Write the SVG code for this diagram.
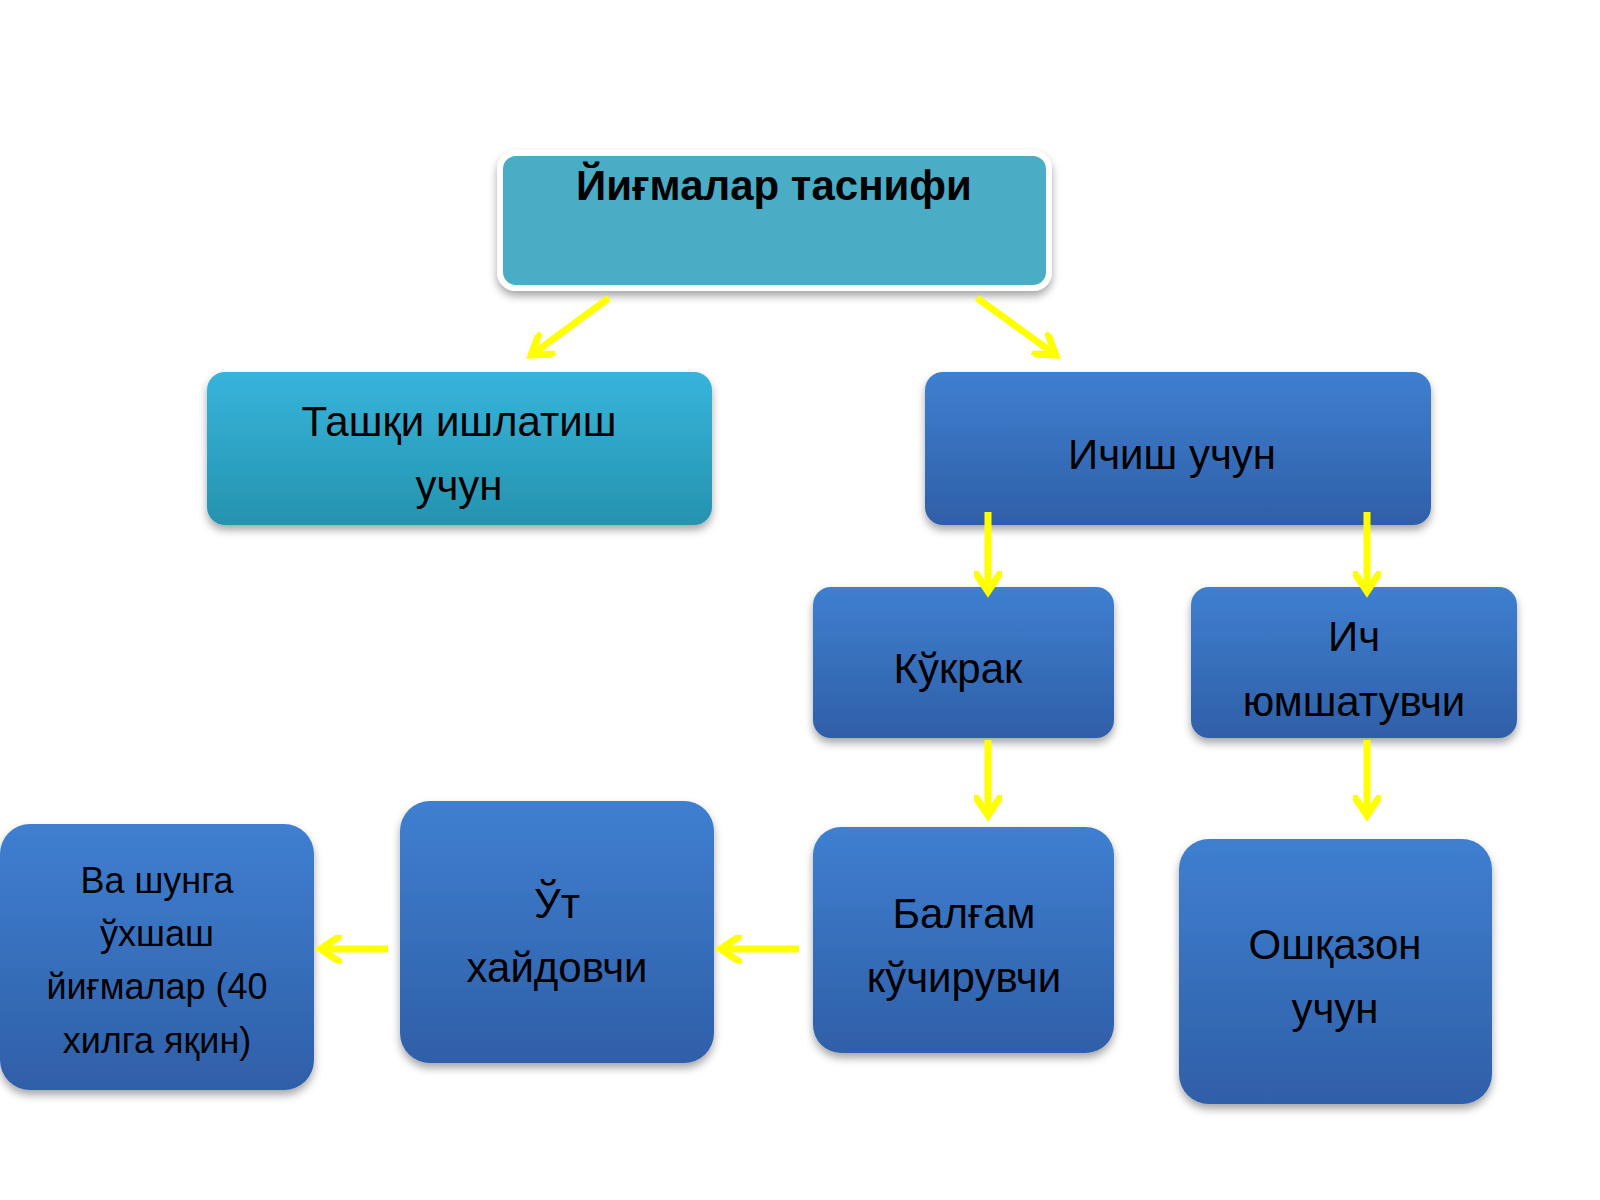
<svg xmlns="http://www.w3.org/2000/svg" width="1600" height="1200" viewBox="0 0 1600 1200">
<defs>
<linearGradient id="gb" x1="0" y1="0" x2="0" y2="1"><stop offset="0" stop-color="#3f7fd0"/><stop offset="1" stop-color="#2f5fa8"/></linearGradient>
<linearGradient id="gc" x1="0" y1="0" x2="0" y2="1"><stop offset="0" stop-color="#37b4dc"/><stop offset="1" stop-color="#2593ae"/></linearGradient>
<filter id="sh" x="-10%" y="-10%" width="120%" height="130%"><feDropShadow dx="0" dy="5" stdDeviation="4" flood-color="#000" flood-opacity="0.35"/></filter>
<marker id="ah" markerWidth="4" markerHeight="4" refX="2.5" refY="2" orient="auto" markerUnits="strokeWidth"><path d="M0,0 L3,2 L0,4" fill="none" stroke="#ffff00" stroke-width="1"/></marker>
<style>
.n{filter:url(#sh)}
.b{fill:url(#gb)}
.c{fill:url(#gc)}
text{font-family:"Liberation Sans",Arial,sans-serif;font-size:42px;fill:#000;text-anchor:middle}
.s{font-size:36px}
.a{stroke:#ffff00;stroke-width:7;fill:none;marker-end:url(#ah)}
</style>
</defs>
<rect width="1600" height="1200" fill="#fff"/>
<g id="top"><rect x="500" y="153" width="549" height="135" rx="16" fill="#4bacc6" stroke="#fff" stroke-width="6" class="n"/><text x="774" y="200" font-weight="bold">Йиғмалар таснифи</text></g>
<g id="tashqi"><rect x="207" y="372" width="505" height="153" rx="18" class="n c"/><text x="459" y="436">Ташқи ишлатиш</text><text x="459" y="500">учун</text></g>
<g id="ichish"><rect x="925" y="372" width="506" height="153" rx="18" class="n b"/><text x="1172" y="469">Ичиш учун</text></g>
<g id="kukrak"><rect x="813" y="587" width="301" height="151" rx="18" class="n b"/><text x="958" y="683">Кўкрак</text></g>
<g id="ich"><rect x="1191" y="587" width="326" height="151" rx="18" class="n b"/><text x="1354" y="651">Ич</text><text x="1354" y="716">юмшатувчи</text></g>
<g id="balgam"><rect x="813" y="827" width="301" height="226" rx="28" class="n b"/><text x="964" y="928">Балғам</text><text x="964" y="992">кўчирувчи</text></g>
<g id="oshqazon"><rect x="1179" y="839" width="313" height="265" rx="30" class="n b"/><text x="1335" y="959">Ошқазон</text><text x="1335" y="1023">учун</text></g>
<g id="ut"><rect x="400" y="801" width="314" height="262" rx="30" class="n b"/><text x="557" y="918">Ўт</text><text x="557" y="982">хайдовчи</text></g>
<g id="va"><rect x="0" y="824" width="314" height="266" rx="30" class="n b"/><text class="s" x="157" y="893">Ва шунга</text><text class="s" x="157" y="946">ўхшаш</text><text class="s" x="157" y="999">йиғмалар (40</text><text class="s" x="157" y="1053">хилга яқин)</text></g>
<g id="connectors">
<line class="a" x1="609" y1="298" x2="534" y2="353"/>
<line class="a" x1="977" y1="298" x2="1053" y2="353"/>
<line class="a" x1="988" y1="512" x2="988" y2="588"/>
<line class="a" x1="1367" y1="512" x2="1367" y2="588"/>
<line class="a" x1="988" y1="740" x2="988" y2="812"/>
<line class="a" x1="1367" y1="740" x2="1367" y2="812"/>
<line class="a" x1="799" y1="949" x2="724" y2="949"/>
<line class="a" x1="388" y1="949" x2="324" y2="949"/>
</g>
</svg>
